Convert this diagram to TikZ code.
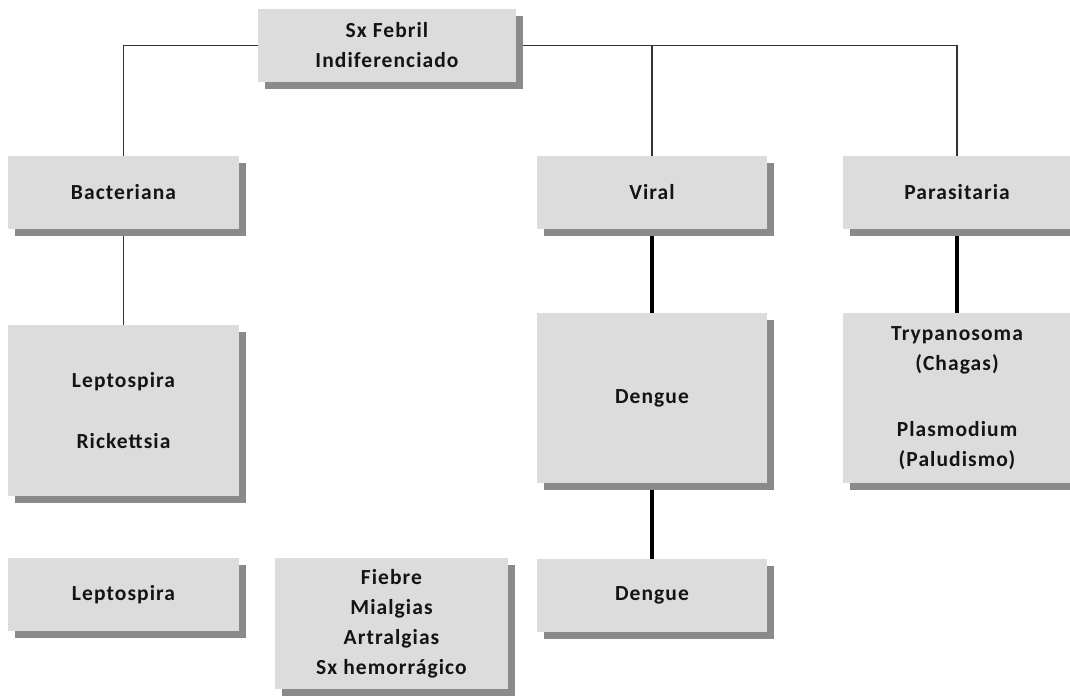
\documentclass[tikz,border=0pt]{standalone}
\usepackage{fontspec}
\setmainfont{Carlito}[LetterSpace=5]
\usetikzlibrary{shadows,backgrounds}
\definecolor{boxfill}{HTML}{DCDCDC}
\definecolor{shadowgray}{HTML}{8A8A8A}
\definecolor{inkgray}{HTML}{141414}
\begin{document}
\begin{tikzpicture}[x=1pt,y=-1pt,
  box/.style={fill=boxfill, inner sep=0pt, align=center, text=inkgray,
    font=\fontsize{21.5}{30}\selectfont\bfseries,
    drop shadow={shadow xshift=6.5pt, shadow yshift=-6.5pt, fill=shadowgray, opacity=1}},
  thinlink/.style={draw=black!80, line width=1.5pt},
  thicklink/.style={draw=black, line width=3.2pt}]
\useasboundingbox (0,0) rectangle (1070,696);
\clip (0,0) rectangle (1070,696);

% top of the tree
\node[box, minimum width=258pt, minimum height=73pt] (root) at (387,45.5) {Sx Febril\\Indiferenciado};

% families of causes
\node[box, minimum width=231pt, minimum height=73pt] (bact) at (123.5,192.5) {Bacteriana};
\node[box, minimum width=230pt, minimum height=73pt] (viral) at (652,192.5) {Viral};
\node[box, minimum width=228pt, minimum height=73pt] (para) at (957,192.5) {Parasitaria};

% agents
\node[box, minimum width=231pt, minimum height=171pt] (agbact) at (123.5,410.5) {Leptospira\\[31pt]Rickettsia};
\node[box, minimum width=230pt, minimum height=170pt] (agviral) at (652,398) {Dengue};
\node[box, minimum width=228pt, minimum height=170pt] (agpara) at (957,398) {Trypanosoma\\(Chagas)\\[36pt]Plasmodium\\(Paludismo)};

% bottom row
\node[box, minimum width=231pt, minimum height=73pt] (lepto) at (123.5,594.5) {Leptospira};
\node[box, minimum width=233pt, minimum height=131pt] (symp) at (391.5,623.5) {Fiebre\\Mialgias\\Artralgias\\Sx hemorrágico};
\node[box, minimum width=230pt, minimum height=73pt] (dengue) at (652,595.5) {Dengue};

% connectors, kept behind the boxes and their shadows
\begin{pgfonlayer}{background}
  \draw[thinlink] (root.west) -| (bact.north);
  \draw[thinlink] (root.east) -| (para.north);
  \draw[thinlink] (viral.north) -- (viral.north |- root.east);
  \draw[thinlink] (bact.south) -- (agbact.north);
  \draw[thicklink] (viral.south) -- (agviral.north);
  \draw[thicklink] (para.south) -- (agpara.north);
  \draw[thicklink] (agviral.south) -- (dengue.north);
\end{pgfonlayer}
\end{tikzpicture}
\end{document}
